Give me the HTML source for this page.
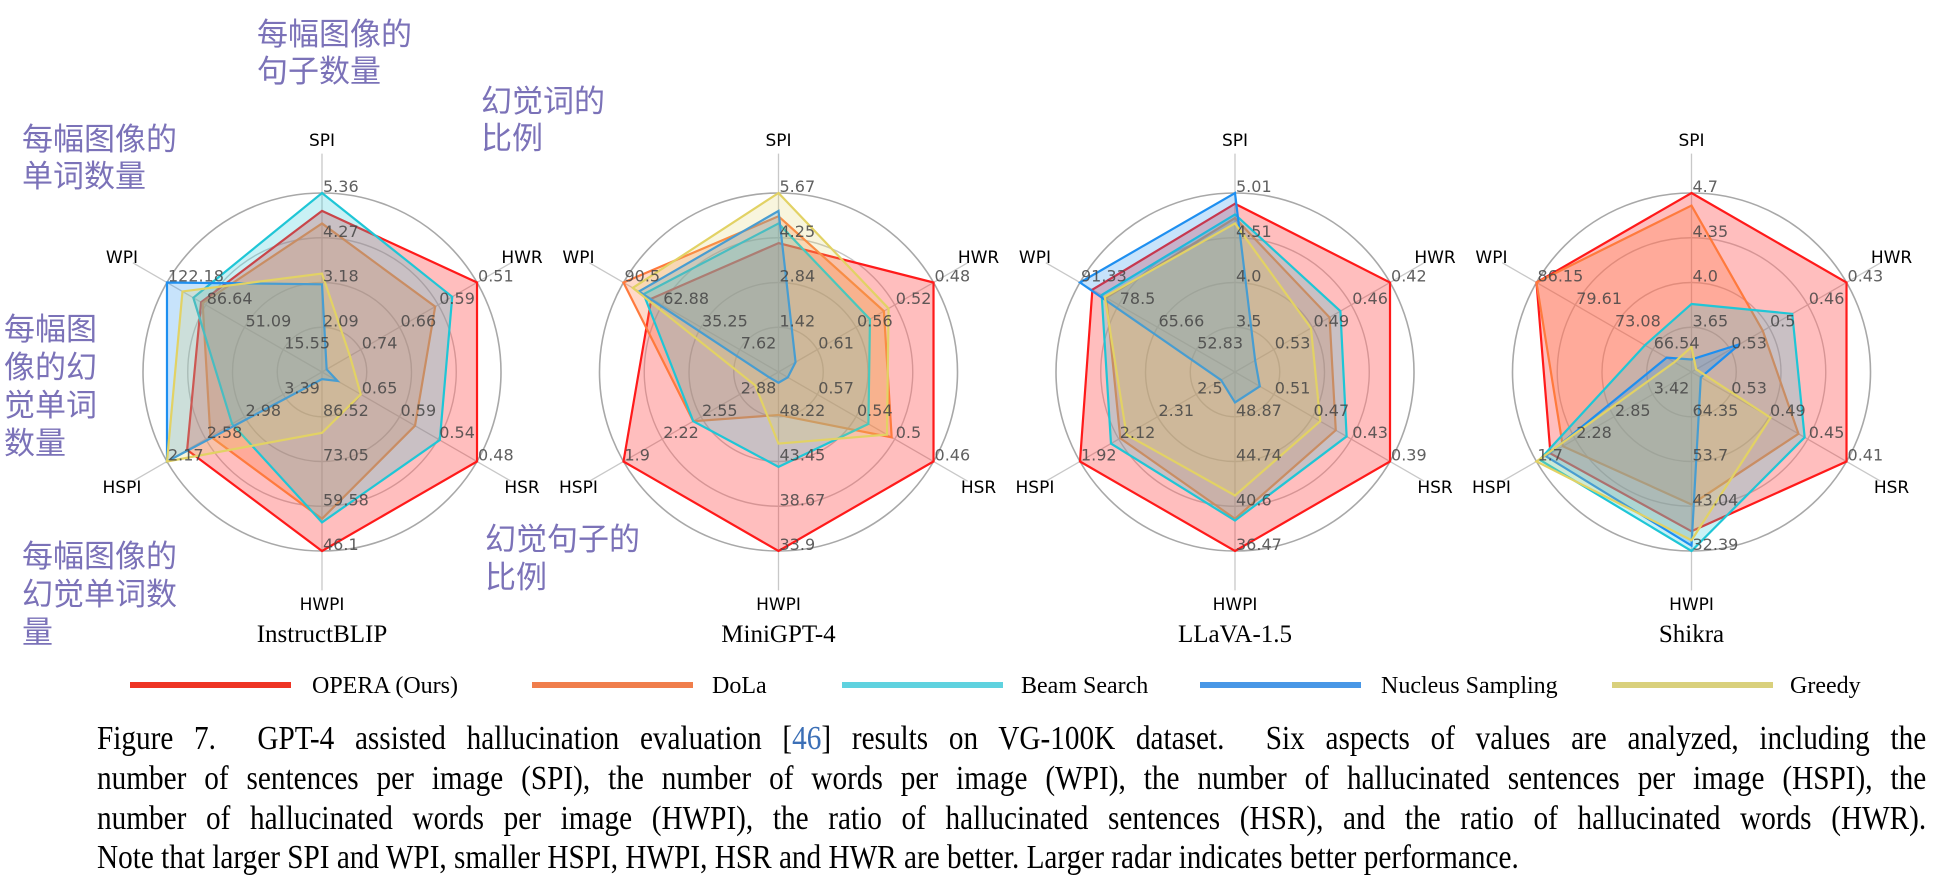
<!DOCTYPE html>
<html><head><meta charset="utf-8">
<style>
body{margin:0;width:1935px;height:891px;background:#fff;overflow:hidden;position:relative;}
.ann{position:absolute;font-family:"Liberation Sans","Noto Sans CJK SC",sans-serif;font-size:31px;line-height:37px;color:#7b72b8;white-space:nowrap;}
.cap{position:absolute;left:97px;width:2127px;font-family:"Liberation Serif",serif;font-size:34px;line-height:40px;height:40px;white-space:nowrap;text-align:justify;text-align-last:justify;color:#000;transform-origin:0 0;transform:scaleX(0.86);}
svg{position:absolute;left:0;top:0;}
</style></head><body>
<svg id="fig" width="1935" height="891" xmlns="http://www.w3.org/2000/svg"></svg>

<div class="ann" style="left:257px;top:16px">每幅图像的<br>句子数量</div>
<div class="ann" style="left:481px;top:83px">幻觉词的<br>比例</div>
<div class="ann" style="left:22px;top:121px">每幅图像的<br>单词数量</div>
<div class="ann" style="left:4px;top:311px;line-height:38px">每幅图<br>像的幻<br>觉单词<br>数量</div>
<div class="ann" style="left:22px;top:538px;line-height:38px">每幅图像的<br>幻觉单词数<br>量</div>
<div class="ann" style="left:485px;top:521px;line-height:38px">幻觉句子的<br>比例</div>

<div class="cap" style="top:719px">Figure 7.&nbsp; GPT-4 assisted hallucination evaluation [<span style="color:#3b6fb6">46</span>] results on VG-100K dataset.&nbsp; Six aspects of values are analyzed, including the</div>
<div class="cap" style="top:759px">number of sentences per image (SPI), the number of words per image (WPI), the number of hallucinated sentences per image (HSPI), the</div>
<div class="cap" style="top:799px">number of hallucinated words per image (HWPI), the ratio of hallucinated sentences (HSR), and the ratio of hallucinated words (HWR).</div>
<div class="cap" style="top:838px;text-align:left;text-align-last:left">Note that larger SPI and WPI, smaller HSPI, HWPI, HSR and HWR are better. Larger radar indicates better performance.</div>

<script>
// ---- data ----
const models = ["InstructBLIP","MiniGPT-4","LLaVA-1.5","Shikra"];
const axes = ["SPI","HWR","HSR","HWPI","HSPI","WPI"];
const seriesNames = ["OPERA (Ours)","DoLa","Beam Search","Nucleus Sampling","Greedy"];
// normalized radar values (fraction of outer ring), order SPI,HWR,HSR,HWPI,HSPI,WPI
const operaVals = [[0.90,1,1,1,0.87,0.78],[0.72,1,1,1,1,0.82],[0.94,1,1,1,1,0.92],[1,1,1,0.89,0.91,1]];
const dolaVals = [[0.83,0.73,0.60,0.82,0.72,0.77],[0.87,0.68,0.73,0.24,0.55,1],[0.86,0.61,0.65,0.82,0.74,0.83],[0.93,0.46,0.69,0.74,0.83,1]];
const beamVals = [[1,0.84,0.76,0.84,0.58,0.83],[0.83,0.59,0.58,0.53,0.55,0.87],[0.88,0.68,0.72,0.83,0.80,0.86],[0.38,0.65,0.73,1,0.98,0.30]];
const nucleusVals = [[0.49,0.03,0.10,0.04,1,1],[0.90,0.11,0.06,0.06,0.06,0.90],[1,0.13,0.16,0.17,0.09,1],[0.07,0.31,0.06,0.97,0.94,0.16]];
const greedyVals = [[0.55,0.18,0.25,0.34,1,0.90],[1,0.71,0.70,0.40,0.15,0.94],[0.83,0.49,0.55,0.69,0.70,0.84],[0.14,0.03,0.51,0.94,1,0.11]];
// tick labels per chart per axis at rings 1, .75, .5, .25
const ticks1 = [["5.36","4.27","3.18","2.09"],["0.51","0.59","0.66","0.74"],["0.48","0.54","0.59","0.65"],["46.1","59.58","73.05","86.52"],["2.17","2.58","2.98","3.39"],["122.18","86.64","51.09","15.55"]];
const ticks2 = [["5.67","4.25","2.84","1.42"],["0.48","0.52","0.56","0.61"],["0.46","0.5","0.54","0.57"],["33.9","38.67","43.45","48.22"],["1.9","2.22","2.55","2.88"],["90.5","62.88","35.25","7.62"]];
const ticks3 = [["5.01","4.51","4.0","3.5"],["0.42","0.46","0.49","0.53"],["0.39","0.43","0.47","0.51"],["36.47","40.6","44.74","48.87"],["1.92","2.12","2.31","2.5"],["91.33","78.5","65.66","52.83"]];
const ticks4 = [["4.7","4.35","4.0","3.65"],["0.43","0.46","0.5","0.53"],["0.41","0.45","0.49","0.53"],["32.39","43.04","53.7","64.35"],["1.7","2.28","2.85","3.42"],["86.15","79.61","73.08","66.54"]];
const ringFractions = [1,0.75,0.5,0.25];

// ---- styles / layout ----
const allVals=[operaVals,dolaVals,beamVals,nucleusVals,greedyVals];
const allTicks=[ticks1,ticks2,ticks3,ticks4];
const colors=["#ff1a1a","#ff7a3d","#1fc6d6","#1e8ff0","#e2d264"];
const fills=["rgba(255,40,40,0.30)","rgba(255,120,60,0.28)","rgba(40,200,215,0.25)","rgba(30,145,240,0.25)","rgba(225,210,100,0.22)"];
const legendColors=["#ee3424","#f07e4c","#5fd2df","#4897e6","#d9d07c"];
const centersX=[322,778.5,1235,1691.5], CY=372, R=179;
const angles=[90,30,-30,-90,-150,150];
const NS="http://www.w3.org/2000/svg";
const svg=document.getElementById('fig');
function mk(tag,attrs){const e=document.createElementNS(NS,tag);for(const k in attrs)e.setAttribute(k,attrs[k]);return e;}
function pt(cx,ai,f){const a=angles[ai]*Math.PI/180;return [cx+Math.cos(a)*R*f, CY-Math.sin(a)*R*f];}

models.forEach((m,ci)=>{
  const cx=centersX[ci];
  const g=mk('g',{});
  
  
  svg.appendChild(g);
  ringFractions.forEach((f,ri)=>{
    const c=mk('circle',{cx:cx,cy:CY,r:R*f,fill:'none',stroke:ri==0?'#a8a8a8':'#c4c4c4','stroke-width':ri==0?1.6:1.4});
    
    
    g.appendChild(c);
  });
  axes.forEach((ax,ai)=>{
    const [x2,y2]=pt(cx,ai,1.22);
    const l=mk('line',{x1:cx,y1:CY,x2:x2,y2:y2,stroke:'#c8c8c8','stroke-width':1.3});
    
    
    g.appendChild(l);
  });
  seriesNames.forEach((s,si)=>{
    const vals=allVals[si][ci];
    const pts=vals.map((v,ai)=>pt(cx,ai,v).join(',')).join(' ');
    const p=mk('polygon',{points:pts,fill:fills[si],stroke:colors[si],'stroke-width':2.2,'stroke-linejoin':'miter'});
    
    
    g.appendChild(p);
  });
  axes.forEach((ax,ai)=>{
    allTicks[ci][ai].forEach((lab,ri)=>{
      const [x,y]=pt(cx,ai,ringFractions[ri]);
      const t=mk('text',{x:x+1,y:y-1,'font-family':'DejaVu Sans, Liberation Sans, sans-serif','font-size':16,fill:'#444','fill-opacity':0.85});
      t.textContent=lab;
      
      
      g.appendChild(t);
    });
    const a=angles[ai]*Math.PI/180;
    const lx=cx+Math.cos(a)*231;
    const ly=CY-Math.sin(a)*(Math.abs(Math.cos(a))<0.1?232:230);
    const t=mk('text',{x:lx,y:ly+6,'text-anchor':'middle','font-family':'DejaVu Sans, Liberation Sans, sans-serif','font-size':17,fill:'#000'});
    t.textContent=ax;
    
    
    g.appendChild(t);
  });
  const title=mk('text',{x:cx,y:642,'text-anchor':'middle','font-family':'Liberation Serif, serif','font-size':25,fill:'#000'});
  title.textContent=m;
  
  
  g.appendChild(title);
});

// legend
const legLineX=[130,532,842,1200,1612];
const legTextX=[312,712,1021,1381,1790];
const lg=mk('g',{});


svg.appendChild(lg);
seriesNames.forEach((s,si)=>{
  const l=mk('rect',{x:legLineX[si],y:682,width:161,height:6,fill:legendColors[si]});
  
  
  lg.appendChild(l);
  const t=mk('text',{x:legTextX[si],y:693,'font-family':'Liberation Serif, serif','font-size':24,fill:'#000'});
  t.textContent=s;
  
  
  lg.appendChild(t);
});
</script>
</body></html>
